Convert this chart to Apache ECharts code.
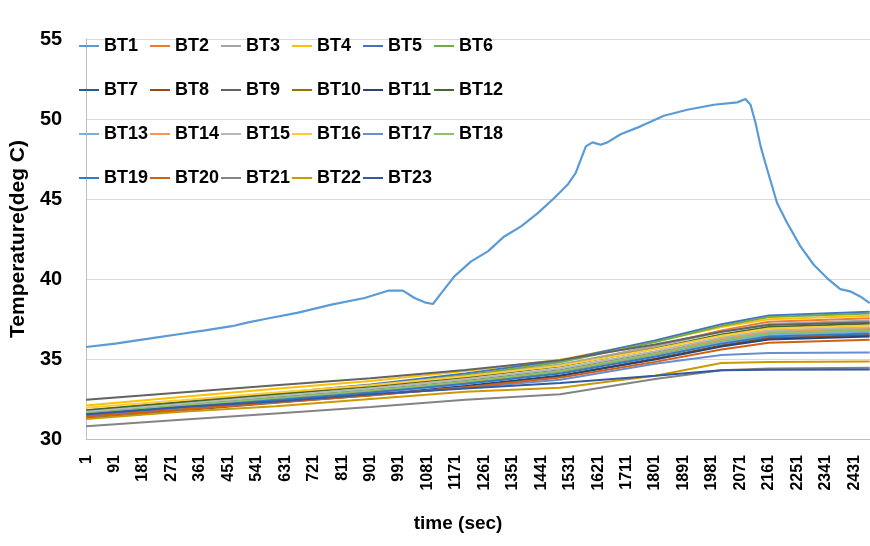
<!DOCTYPE html>
<html>
<head>
<meta charset="utf-8">
<script src="https://cdn.jsdelivr.net/npm/echarts@6/dist/echarts.min.js"></script>
<style>html,body{margin:0;padding:0;background:#fff}#c{width:870px;height:546px}</style>
</head>
<body>
<div id="c"></div>
<script>
// x tick labels (time in sec)
var xTicks = [1,91,181,271,361,451,541,631,721,811,901,991,1081,1171,1261,1351,1441,1531,1621,1711,1801,1891,1981,2071,2161,2251,2341,2431];
var yTicks = [30,35,40,45,50,55];

// BT1 (its own sampling)
var bt1Time = [1,93,199,304,377,462,514,567,672,777,882,956,1003,1040,1072,1098,1124,1166,1219,1272,1324,1377,1430,1482,1524,1550,1566,1582,1603,1629,1650,1692,1755,1829,1903,1987,2061,2087,2103,2119,2135,2156,2187,2219,2261,2303,2345,2387,2418,2450,2480];
var bt1 = [35.75,35.96,36.27,36.58,36.79,37.05,37.29,37.5,37.9,38.4,38.81,39.27,39.27,38.81,38.54,38.44,39.1,40.16,41.1,41.73,42.66,43.29,44.12,45.06,45.89,46.63,47.46,48.29,48.54,48.39,48.54,49.05,49.54,50.2,50.58,50.89,51.04,51.25,50.89,49.75,48.29,46.83,44.75,43.5,42.04,40.89,40.06,39.37,39.23,38.91,38.5];

// other sensors, sampled at these times
var sampleTime = [1,301,601,901,1201,1501,1801,2011,2161,2480];
var bt2  = [31.50,32.06,32.62,33.16,33.82,34.59,35.81,36.79,37.33,37.55];
var bt3  = [31.80,32.32,32.84,33.33,33.95,34.66,35.79,36.70,37.19,37.40];
var bt4  = [32.10,32.62,33.14,33.63,34.25,34.96,36.09,37.00,37.49,37.70];
var bt5  = [31.70,32.28,32.86,33.41,34.09,34.89,36.16,37.17,37.72,37.95];
var bt6  = [31.60,32.18,32.76,33.31,33.99,34.79,36.06,37.07,37.62,37.85];
var bt7  = [31.60,32.09,32.58,33.05,33.63,34.30,35.38,36.24,36.70,36.90];
var bt8  = [31.30,31.78,32.26,32.73,33.29,33.95,35.01,35.85,36.31,36.50];
var bt9  = [32.46,32.91,33.36,33.79,34.31,34.93,35.91,36.70,37.12,37.30];
var bt10 = [31.50,31.99,32.48,32.95,33.53,34.20,35.28,36.14,36.60,36.80];
var bt11 = [31.40,31.86,32.33,32.77,33.32,33.95,34.97,35.78,36.22,36.40];
var bt12 = [31.80,32.30,32.80,33.28,33.87,34.55,35.65,36.53,37.00,37.20];
var bt13 = [31.40,31.89,32.38,32.85,33.43,34.10,35.18,36.04,36.50,36.70];
var bt14 = [31.50,32.00,32.50,32.98,33.57,34.25,35.35,36.23,36.70,36.90];
var bt15 = [31.70,32.19,32.68,33.15,33.73,34.40,35.48,36.34,36.80,37.00];
var bt16 = [31.95,32.42,32.90,33.36,33.92,34.58,35.62,36.46,36.91,37.10];
var bt17 = [31.40,31.85,32.30,32.75,33.20,33.70,34.70,35.25,35.37,35.40];
var bt18 = [31.60,32.08,32.56,33.03,33.59,34.25,35.31,36.15,36.61,36.80];
var bt19 = [31.50,31.97,32.44,32.90,33.45,34.10,35.14,35.96,36.41,36.60];
var bt20 = [31.40,31.84,32.29,32.72,33.24,33.85,34.82,35.60,36.02,36.20];
var bt21 = [30.80,31.20,31.60,32.00,32.45,32.80,33.75,34.30,34.40,34.45];
var bt22 = [31.25,31.70,32.05,32.50,32.95,33.20,33.95,34.75,34.82,34.85];
var bt23 = [31.55,32.00,32.35,32.80,33.15,33.50,33.95,34.30,34.33,34.35];

var names = ['BT1','BT2','BT3','BT4','BT5','BT6','BT7','BT8','BT9','BT10','BT11','BT12','BT13','BT14','BT15','BT16','BT17','BT18','BT19','BT20','BT21','BT22','BT23'];
var colors = ['#5B9BD5','#ED7D31','#A5A5A5','#FFC000','#4472C4','#70AD47','#255E91','#9E480E','#636363','#997300','#264478','#43682B','#7CAFDD','#F1975A','#B7B7B7','#FFCD33','#698ED0','#8CC168','#327DC2','#D26012','#848484','#CC9A00','#335AA1'];
var others = [bt2,bt3,bt4,bt5,bt6,bt7,bt8,bt9,bt10,bt11,bt12,bt13,bt14,bt15,bt16,bt17,bt18,bt19,bt20,bt21,bt22,bt23];

function pairs(xs, ys){ return xs.map(function(x,i){ return [x, ys[i]]; }); }

var series = [];
series.push({name:'BT1', type:'line', data:pairs(bt1Time, bt1), showSymbol:false, symbol:'none',
  lineStyle:{width:2.2, color:colors[0]}, itemStyle:{color:colors[0]}, animation:false});
others.forEach(function(arr, i){
  series.push({name:names[i+1], type:'line', data:pairs(sampleTime, arr), showSymbol:false, symbol:'none',
    lineStyle:{width:2, color:colors[i+1]}, itemStyle:{color:colors[i+1]}, animation:false});
});

var font = 'Liberation Sans';
var legends = [];
for (var c = 0; c < 6; c++) {
  var d = [];
  for (var r = 0; r < 4; r++) { var k = r*6 + c; if (k < names.length) d.push(names[k]); }
  legends.push({
    data: d, orient:'vertical', left: 79 + 71*c, top: 36,
    icon:'rect', itemWidth:20, itemHeight:2, itemGap:24,
    selectedMode:false, padding:0,
    textStyle:{fontFamily:font, fontWeight:'bold', fontSize:18, color:'#000', lineHeight:20}
  });
}

var chart = echarts.init(document.getElementById('c'), null, {renderer:'canvas'});
chart.setOption({
  animation:false,
  backgroundColor:'#fff',
  grid:{left:84, right:0, top:39, bottom:107, containLabel:false},
  legend: legends,
  xAxis:{
    type:'value', min:1, max:2481,
    name:'time (sec)', nameLocation:'middle', nameGap:75,
    nameTextStyle:{fontFamily:font, fontWeight:'bold', fontSize:19, color:'#000', padding:[0,40,0,0]},
    axisLine:{show:true, lineStyle:{color:'#bfbfbf', width:1}},
    axisTick:{show:false},
    splitLine:{show:false},
    axisLabel:{customValues:xTicks, rotate:90, margin:16, fontFamily:font, fontWeight:'bold', fontSize:16, color:'#000',
      formatter:function(v){ return String(v); }}
  },
  yAxis:{
    type:'value', min:yTicks[0], max:yTicks[yTicks.length-1], interval:5,
    name:'Temperature(deg C)', nameLocation:'middle', nameGap:54, nameRotate:90,
    nameTextStyle:{fontFamily:font, fontWeight:'bold', fontSize:21, color:'#000'},
    axisLine:{show:true, lineStyle:{color:'#bfbfbf', width:1}},
    axisTick:{show:false},
    splitLine:{show:true, lineStyle:{color:'#d9d9d9', width:1}},
    axisLabel:{margin:24, fontFamily:font, fontWeight:'bold', fontSize:20, color:'#000'}
  },
  series: series
});
</script>
</body>
</html>
